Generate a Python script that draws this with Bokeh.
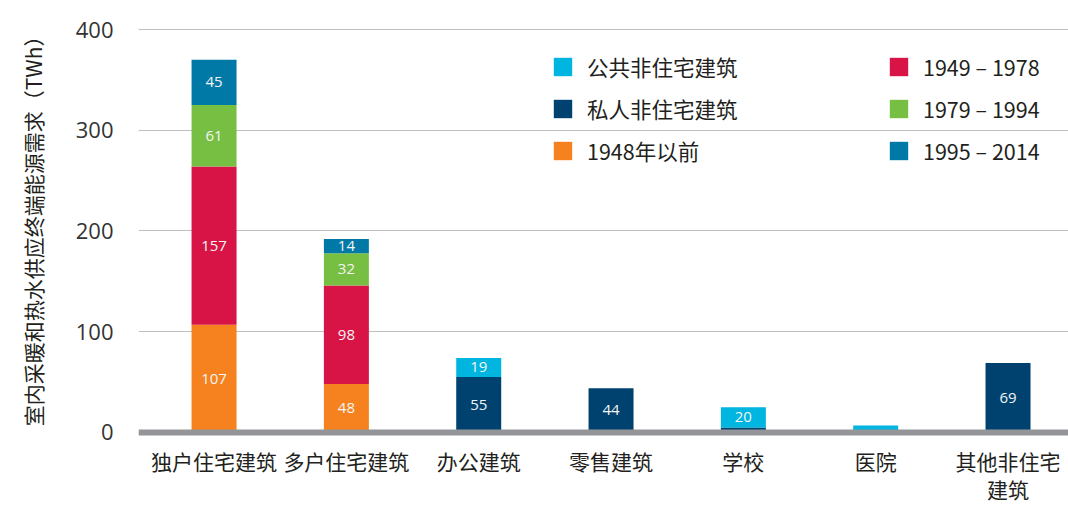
from bokeh.plotting import figure
from bokeh.models import Range1d, FixedTicker, Span, Legend, LegendItem, ColumnDataSource
from bokeh.embed import file_html
from bokeh.resources import INLINE
from bokeh.core.properties import value

categories = ["独户住宅建筑", "多户住宅建筑", "办公建筑", "零售建筑", "学校", "医院", "其他非住宅\n建筑"]
pre1948 = [107, 48, 0, 0, 0, 0, 0]
y1949_1978 = [157, 98, 0, 0, 0, 0, 0]
y1979_1994 = [61, 32, 0, 0, 0, 0, 0]
y1995_2014 = [45, 14, 0, 0, 0, 0, 0]
private_nonres = [0, 0, 55, 44, 5, 0, 69]
public_nonres = [0, 0, 19, 0, 20, 7, 0]

series_keys = ["pre1948", "y1949", "y1979", "y1995", "private", "public"]
series_names = ["1948年以前", "1949 – 1978", "1979 – 1994", "1995 – 2014", "私人非住宅建筑", "公共非住宅建筑"]
series_colors = ["#F5821F", "#D71445", "#77BF43", "#0079A6", "#00426F", "#00B5E0"]
y_ticks = [0, 100, 200, 300, 400]
y_title = "室内采暖和热水供应终端能源需求（TWh）"

FONT = "Noto Sans CJK SC"

xs = list(range(len(categories)))
data = dict(x=xs, pre1948=pre1948, y1949=y1949_1978, y1979=y1979_1994,
            y1995=y1995_2014, private=private_nonres, public=public_nonres)
source = ColumnDataSource(data)

p = figure(width=1068, height=507, output_backend="svg", toolbar_location=None,
           x_range=Range1d(-0.571, 6.457), y_range=Range1d(-4, 413.9),
           min_border_left=138, min_border_right=0, min_border_top=15, min_border_bottom=0)
p.outline_line_color = None
p.background_fill_color = "white"
p.border_fill_color = "white"

renderers = p.vbar_stack(series_keys, x="x", width=0.34, fill_color=series_colors,
                         line_color=None, source=source)

# segment labels
lx, ly, lt = [], [], []
series_vals = [pre1948, y1949_1978, y1979_1994, y1995_2014, private_nonres, public_nonres]
for i in xs:
    base = 0
    for vals in series_vals:
        v = vals[i]
        if v >= 10:
            lx.append(i)
            ly.append(base + v / 2)
            lt.append(str(v))
        base += v
p.text(x=lx, y=ly, text=lt, text_align="center", text_baseline="middle",
       text_color="#f4f4f4", text_font=value("Open Sans"), text_font_size="15px")

p.add_layout(Span(location=0, dimension="width", line_color="#939598", line_width=6))

# axes
p.xaxis.ticker = FixedTicker(ticks=xs)
p.xaxis.major_label_overrides = {i: c for i, c in enumerate(categories)}
p.xaxis.axis_line_color = None
p.xaxis.major_tick_line_color = None
p.xaxis.major_tick_out = 0
p.xaxis.major_tick_in = 0
p.xaxis.minor_tick_line_color = None
p.xaxis.major_label_text_font = FONT
p.xaxis.major_label_text_font_size = "21px"
p.xaxis.major_label_text_line_height = 0.95
p.xaxis.major_label_text_color = "#231F20"
p.xaxis.major_label_standoff = 9

p.yaxis.ticker = FixedTicker(ticks=y_ticks)
p.yaxis.axis_line_color = None
p.yaxis.major_tick_line_color = None
p.yaxis.major_tick_out = 0
p.yaxis.major_tick_in = 0
p.yaxis.minor_tick_line_color = None
p.yaxis.major_label_text_font = "Open Sans"
p.yaxis.major_label_text_font_size = "22px"
p.yaxis.major_label_text_color = "#333333"
p.yaxis.major_label_standoff = 25
p.yaxis.axis_label = y_title
p.yaxis.axis_label_text_font = FONT
p.yaxis.axis_label_text_font_size = "21px"
p.yaxis.axis_label_text_font_style = "normal"
p.yaxis.axis_label_text_color = "#231F20"
p.yaxis.axis_label_standoff = 25

p.xgrid.grid_line_color = None
p.ygrid.grid_line_color = "#BFBFBF"
p.ygrid.grid_line_width = 1

def make_legend(items, loc):
    lg = Legend(items=items, location=loc, orientation="vertical",
                glyph_width=23, glyph_height=23, label_standoff=13, spacing=11,
                padding=0, margin=0, border_line_color=None, background_fill_alpha=0,
                label_text_font=FONT, label_text_font_size="21.5px", label_text_color="#231F20")
    return lg

leg1 = make_legend([LegendItem(label=series_names[k], renderers=[renderers[k]]) for k in (5, 4, 0)], (413, 270))
leg2 = make_legend([LegendItem(label=series_names[k], renderers=[renderers[k]]) for k in (1, 2, 3)], (749, 270))
p.add_layout(leg1)
p.add_layout(leg2)

open("out.html", "w").write(file_html(p, INLINE))
